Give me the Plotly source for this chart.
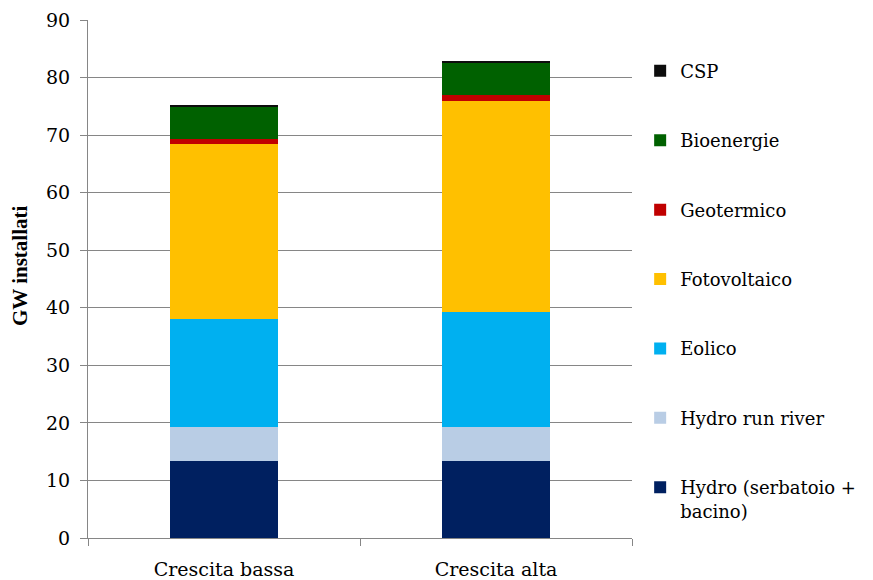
import plotly.graph_objects as go

scenari = ["Crescita bassa", "Crescita alta"]

hydro_bacino = [13.4, 13.4]
hydro_run_river = [5.9, 5.9]
eolico = [18.75, 20.0]
fotovoltaico = [30.35, 36.7]
geotermico = [0.9, 1.0]
bioenergie = [5.5, 5.6]
csp = [0.4, 0.3]

serie = [
    ("Hydro (serbatoio +<br>bacino)", hydro_bacino, "#002060"),
    ("Hydro run river", hydro_run_river, "#B9CDE5"),
    ("Eolico", eolico, "#00B0F0"),
    ("Fotovoltaico", fotovoltaico, "#FFC000"),
    ("Geotermico", geotermico, "#C00000"),
    ("Bioenergie", bioenergie, "#006100"),
    ("CSP", csp, "#0D0D0D"),
]

FONT = "DejaVu Serif"

fig = go.Figure()
for i, (nome, valori, colore) in enumerate(serie):
    fig.add_trace(go.Bar(
        x=scenari, y=valori, name=nome,
        marker=dict(color=colore, line=dict(width=0)),
        width=0.4, legendgroup=f"g{i}", legendrank=100 - i,
    ))

fig.update_layout(
    barmode="stack",
    width=873, height=580,
    margin=dict(l=88, r=239, t=20, b=42),
    plot_bgcolor="white", paper_bgcolor="white",
    font=dict(family=FONT, size=18, color="#000000"),
    legend=dict(
        traceorder="grouped",
        tracegroupgap=43,
        x=1.015, y=0.937, xanchor="left", yanchor="top",
        valign="top",
        itemwidth=30,
        font=dict(family=FONT, size=18),
    ),
    xaxis=dict(
        showline=True, linecolor="#868686", linewidth=1,
        ticks="outside", tickson="boundaries", ticklen=7, tickcolor="#868686",
        tickfont=dict(family=FONT, size=19),
        ticklabelstandoff=14, automargin=False,
    ),
    yaxis=dict(
        range=[0, 90], dtick=10,
        showline=True, linecolor="#868686", linewidth=1,
        showgrid=True, gridcolor="#868686", gridwidth=1,
        ticks="outside", ticklen=7, tickcolor="#868686",
        zeroline=False,
        tickfont=dict(family=FONT, size=19),
        ticklabelstandoff=6, automargin=False,
    ),
    annotations=[dict(
        text="<b>GW installati</b>", textangle=-90,
        xref="paper", yref="paper", x=-0.125, y=0.525,
        xanchor="center", yanchor="middle", showarrow=False,
        font=dict(family="Liberation Serif", size=21, color="#000000"),
    )],
    bargap=0.6,
)

fig.write_html("out.html")
